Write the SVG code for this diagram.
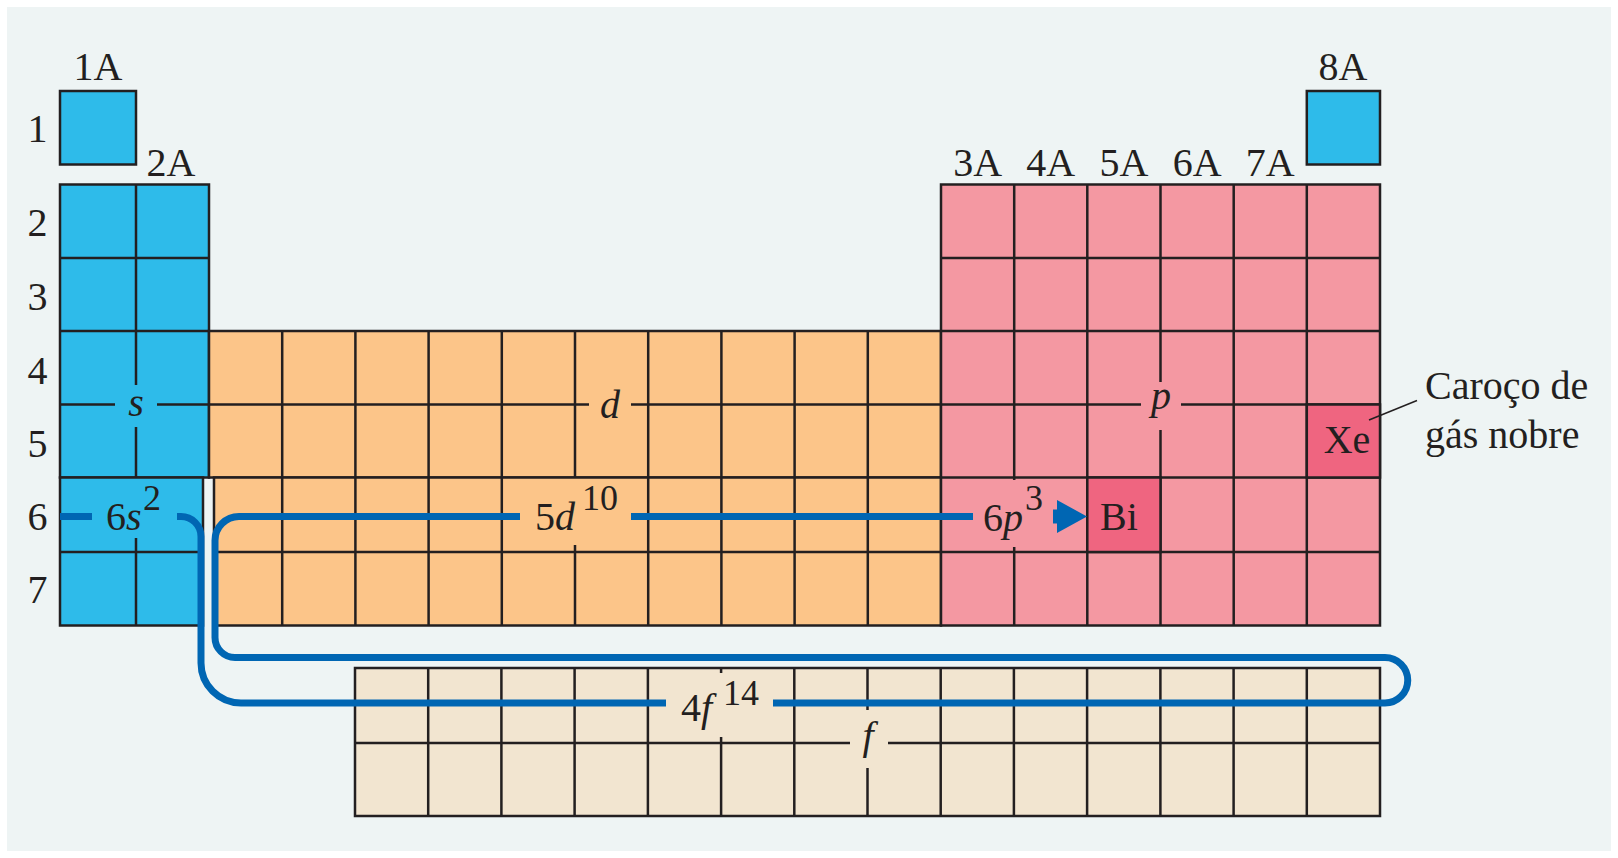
<svg xmlns="http://www.w3.org/2000/svg" width="1618" height="858" viewBox="0 0 1618 858">
<style>
.g{stroke:#231f20;stroke-width:2.5;fill:none}
.cs{fill:#2ebbea;stroke:#231f20;stroke-width:2.5}
.cd{fill:#fcc589;stroke:#231f20;stroke-width:2.5}
.cp{fill:#f498a2;stroke:#231f20;stroke-width:2.5}
.ch{fill:#ef6580;stroke:#231f20;stroke-width:2.5}
.cf{fill:#f2e5d0;stroke:#231f20;stroke-width:2.5}
text{font-family:"Liberation Serif","Times New Roman",serif;font-size:40px;fill:#231f20}
.i{font-style:italic}
.m{text-anchor:middle}
.sup{font-size:36px}
.con{stroke:#0066b3;stroke-width:7;fill:none}
</style>
<rect width="1618" height="858" fill="#ffffff"/>
<rect x="7" y="7" width="1604" height="844" fill="#eef4f4"/>

<g id="s-block">
<rect class="cs" x="60" y="91" width="76" height="73.5"/>
<rect class="cs" x="60" y="184.5" width="149" height="293"/>
<path class="g" d="M136,184.5V385M136,427V477.5M60,258H209M60,331H209M60,404.5H115M157,404.5H209"/>
<rect class="cs" x="60" y="477.5" width="143" height="148"/>
<path class="g" d="M136,538V625.5M60,552H203"/>
<text class="i m" x="136" y="416">s</text>
</g>

<g id="d-block">
<rect class="cd" x="209" y="331" width="732" height="146.5"/>
<path class="g" d="M282.2,331V477.5M355.4,331V477.5M428.6,331V477.5M501.8,331V477.5M575,331V477.5M648.2,331V477.5M721.4,331V477.5M794.6,331V477.5M867.8,331V477.5M209,404.5H589M631,404.5H941"/>
<rect class="cd" x="214" y="477.5" width="727" height="148"/>
<path class="g" d="M282.2,477.5V625.5M355.4,477.5V625.5M428.6,477.5V625.5M501.8,477.5V625.5M575,545V625.5M648.2,477.5V625.5M721.4,477.5V625.5M794.6,477.5V625.5M867.8,477.5V625.5M214,552H941"/>
<text class="i m" x="610" y="418">d</text>
</g>

<g id="p-block">
<rect class="cp" x="941" y="184.5" width="439" height="441"/>
<rect class="cp" x="1306.8" y="91" width="73.2" height="73.5" style="fill:#2ebbea"/>
<path class="g" d="M1014.2,184.5V480M1014.2,547V625.5M1087.3,184.5V625.5M1160.5,184.5V382M1160.5,430V625.5M1233.7,184.5V625.5M1306.8,184.5V625.5M941,258H1380M941,331H1380M941,404.5H1141M1181,404.5H1380M941,477.5H1380M941,552H1380"/>
<text class="i m" x="1161" y="409">p</text>
</g>

<g id="Bi">
<rect class="ch" x="1087.3" y="477.5" width="73.2" height="74.5"/>
<text class="m" x="1119" y="530">Bi</text>
</g>

<g id="Xe">
<rect class="ch" x="1306.8" y="404.5" width="73.2" height="73"/>
<text class="m" x="1347" y="453">Xe</text>
<path d="M1369,420L1417,400.5" stroke="#231f20" stroke-width="1.5" fill="none"/>
<text x="1425" y="399">Caroço de</text>
<text x="1425" y="448">gás nobre</text>
</g>

<g id="f-block">
<rect class="cf" x="355" y="668" width="1025" height="148"/>
<path class="g" d="M428.2,668V816M501.4,668V816M574.6,668V816M647.9,668V816M721.1,668V673M721.1,737V816M794.3,668V816M867.5,668V710M867.5,768V816M940.7,668V816M1013.9,668V816M1087.1,668V816M1160.4,668V816M1233.6,668V816M1306.8,668V816M355,743H850M888,743H1380"/>
<text class="i m" x="868" y="749">f</text>
</g>

<g id="group-labels">
<text class="m" x="98" y="80">1A</text>
<text class="m" x="171" y="176">2A</text>
<text class="m" x="977.6" y="176">3A</text>
<text class="m" x="1050.8" y="176">4A</text>
<text class="m" x="1123.9" y="176">5A</text>
<text class="m" x="1197.1" y="176">6A</text>
<text class="m" x="1270.3" y="176">7A</text>
<text class="m" x="1343" y="80">8A</text>
</g>

<g id="period-labels">
<text class="m" x="37.5" y="142">1</text>
<text class="m" x="37.5" y="236">2</text>
<text class="m" x="37.5" y="310">3</text>
<text class="m" x="37.5" y="384">4</text>
<text class="m" x="37.5" y="457">5</text>
<text class="m" x="37.5" y="530">6</text>
<text class="m" x="37.5" y="603">7</text>
</g>

<g id="connectors">
<path class="con" d="M60,516.5H92M177,516.5H181A20,20 0 0 1 201,536.5V663A40,40 0 0 0 241,703H666M773,703H1385A22.75,22.75 0 0 0 1385,657.5H235A20,20 0 0 1 215,637.5V540.5A24,24 0 0 1 239,516.5H520M631,516.5H973"/>
<polygon points="1053,509.5 1057,509.5 1057,500 1087,516.5 1057,533 1057,523.5 1053,523.5" fill="#0066b3"/>
</g>

<g id="config-labels">
<text x="106" y="530">6<tspan class="i">s</tspan></text>
<text class="sup" x="143" y="510">2</text>
<text x="535" y="530">5<tspan class="i">d</tspan></text>
<text class="sup" x="582" y="510">10</text>
<text x="983" y="531">6<tspan class="i">p</tspan></text>
<text class="sup" x="1025" y="510">3</text>
<text x="681" y="721">4<tspan class="i">f</tspan></text>
<text class="sup" x="723" y="705">14</text>
</g>
</svg>
